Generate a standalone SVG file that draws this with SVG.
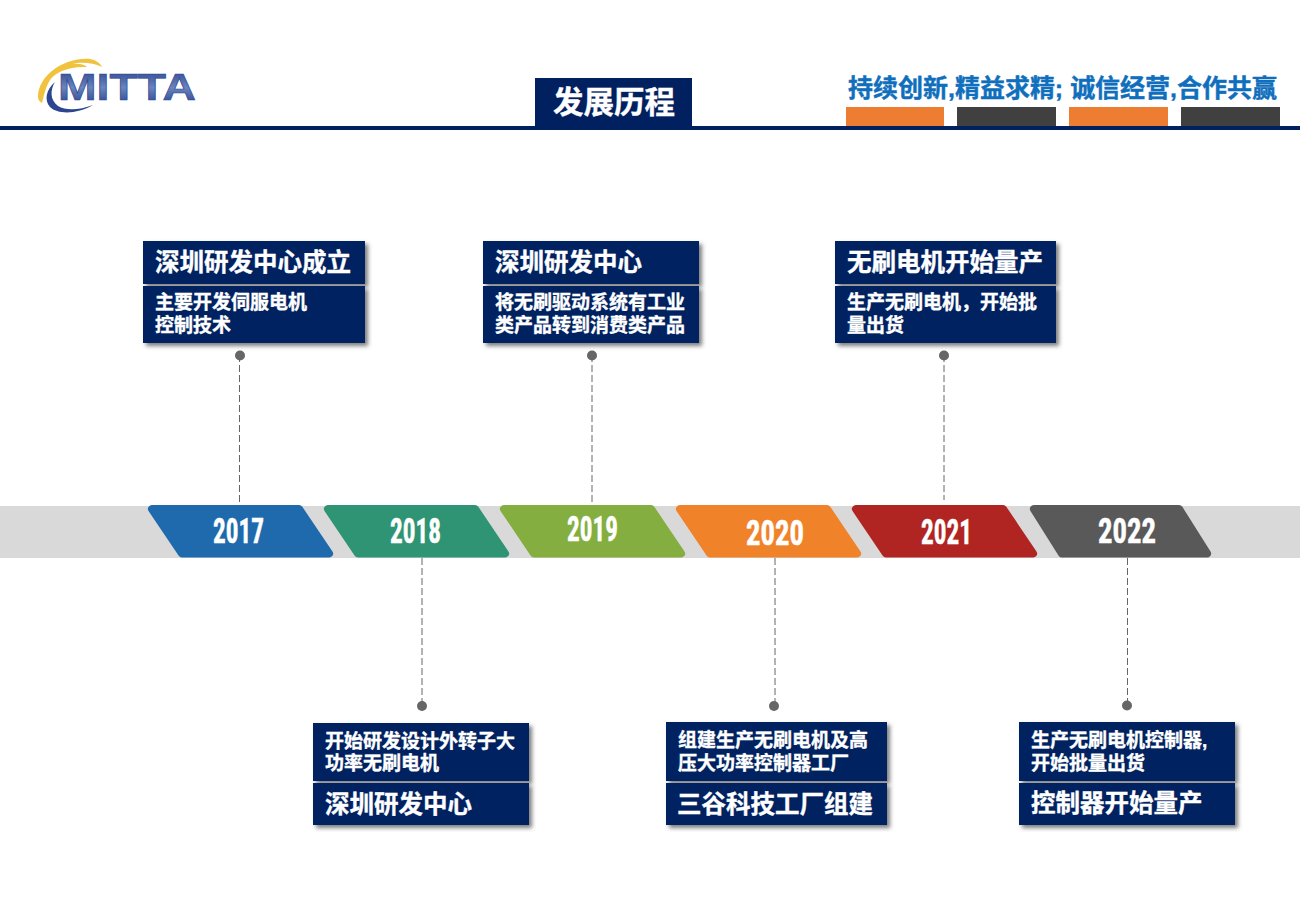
<svg xmlns="http://www.w3.org/2000/svg" width="1300" height="900" viewBox="0 0 1300 900">
<style>
.card{fill:#002060;filter:url(#sh)}
.t{font-family:"Liberation Sans","Noto Sans CJK SC",sans-serif;font-weight:700;fill:#fff;stroke:#fff;stroke-width:.35}
.tt{font-size:24.5px}
.bd{font-size:19px}
.yr{font-family:"Liberation Sans Narrow","Roboto Condensed","Liberation Sans",sans-serif;font-weight:700;font-size:35px;fill:#fff;stroke:#fff;stroke-width:.5;text-anchor:middle}
.seg{stroke-width:8;stroke-linejoin:round}
.dash{stroke:#666;stroke-width:1;stroke-dasharray:7 3;fill:none}
.dot{fill:#666}
</style>
<defs>
<filter id="sh" x="-5%" y="-10%" width="112%" height="125%"><feDropShadow dx="3" dy="3" stdDeviation="2" flood-color="#444" flood-opacity=".7"/></filter>
<linearGradient id="logoB" x1="0" y1="0" x2="0" y2="1"><stop offset="0" stop-color="#27408b"/><stop offset=".5" stop-color="#6a84bd"/><stop offset="1" stop-color="#1f3a85"/></linearGradient>
</defs>
<rect width="1300" height="900" fill="#fff"/>
<g id="header">
<path d="M38 97C38 75 65 57 90 59C96 60 100 63 102 67C92 62 80 62 72 64C80 63 85 65 87 67C70 66 55 72 50 80C45 88 44 96 42 103C40 102 38 100 38 97Z" fill="#f0c23e"/>
<path d="M55 82C46 90 44 100 50 107C58 115 78 114 93 105C80 110 66 111 58 106C50 100 50 90 55 82Z" fill="#2c4591"/>
<text x="58" y="100" font-family="'Liberation Sans',sans-serif" font-weight="700" font-size="36" fill="url(#logoB)" stroke="#2c4591" stroke-width=".6" textLength="138" lengthAdjust="spacingAndGlyphs">MITTA</text>
<rect x="0" y="126" width="1300" height="4" fill="#002060"/>
<rect x="535" y="78" width="157" height="49" fill="#002060"/>
<text x="553" y="113" class="t" font-size="30.500">发展历程</text>
<text x="848" y="97" font-family="'Liberation Sans','Noto Sans CJK SC',sans-serif" font-weight="700" font-size="24.500" fill="#0f6fbd" stroke="#0f6fbd" stroke-width=".4" textLength="429" lengthAdjust="spacingAndGlyphs">持续创新,精益求精; 诚信经营,合作共赢</text>
<rect x="846" y="107" width="98" height="19" fill="#ed7d31"/>
<rect x="957" y="107" width="99" height="19" fill="#404040"/>
<rect x="1069" y="107" width="99" height="19" fill="#ed7d31"/>
<rect x="1181" y="107" width="99" height="19" fill="#404040"/>
</g>
<rect id="band" x="0" y="506" width="1300" height="52" fill="#d9d9d9"/>
<g id="connectors">
<path class="dash" d="M239.500 355V503M592 355V503M944 355V500M422 558V706M775 558V706M1127.500 558V705"/>
</g>
<g id="y2017"><polygon class="seg" points="152,509 299,509 329,553.500 182,553.500" fill="#1f6aad" stroke="#1f6aad"/><text class="yr" x="238.500" y="542.500" textLength="51" lengthAdjust="spacingAndGlyphs">2017</text></g>
<g id="y2018"><polygon class="seg" points="328,509 475,509 505,553.500 358,553.500" fill="#2f9473" stroke="#2f9473"/><text class="yr" x="415.500" y="542.500" textLength="51" lengthAdjust="spacingAndGlyphs">2018</text></g>
<g id="y2019"><polygon class="seg" points="504,509 651,509 681,553.500 534,553.500" fill="#84ae3f" stroke="#84ae3f"/><text class="yr" x="592.500" y="540.500" textLength="51" lengthAdjust="spacingAndGlyphs">2019</text></g>
<g id="y2020"><polygon class="seg" points="680,509 827,509 857,553.500 710,553.500" fill="#f0832a" stroke="#f0832a"/><text class="yr" x="775" y="544.500" textLength="58" lengthAdjust="spacingAndGlyphs">2020</text></g>
<g id="y2021"><polygon class="seg" points="856,509 1003,509 1033,553.500 886,553.500" fill="#b02422" stroke="#b02422"/><text class="yr" x="946.500" y="543.500" textLength="51" lengthAdjust="spacingAndGlyphs">2021</text></g>
<g id="y2022"><polygon class="seg" points="1034,509 1179,509 1207,553.500 1062,553.500" fill="#595959" stroke="#595959"/><text class="yr" x="1127" y="542.500" textLength="58" lengthAdjust="spacingAndGlyphs">2022</text></g>
<g id="card2017">
<rect class="card" x="143" y="241" width="222" height="43"/><rect class="card" x="143" y="286" width="222" height="57"/>
<text class="t tt" x="155" y="271">深圳研发中心成立</text>
<text class="t bd" x="155" y="309">主要开发伺服电机</text><text class="t bd" x="155" y="332">控制技术</text>
<circle class="dot" cx="240" cy="355.500" r="5"/>
</g>
<g id="card2019">
<rect class="card" x="483" y="241" width="216" height="43"/><rect class="card" x="483" y="286" width="216" height="57"/>
<text class="t tt" x="495" y="271">深圳研发中心</text>
<text class="t bd" x="495" y="309">将无刷驱动系统有工业</text><text class="t bd" x="495" y="332">类产品转到消费类产品</text>
<circle class="dot" cx="592" cy="355.500" r="5"/>
</g>
<g id="card2021">
<rect class="card" x="835" y="241" width="221" height="43"/><rect class="card" x="835" y="286" width="221" height="57"/>
<text class="t tt" x="847" y="271">无刷电机开始量产</text>
<text class="t bd" x="847" y="309">生产无刷电机，开始批</text><text class="t bd" x="847" y="332">量出货</text>
<circle class="dot" cx="944" cy="355.500" r="5"/>
</g>
<g id="card2018">
<rect class="card" x="313" y="723" width="216" height="58"/><rect class="card" x="313" y="783" width="216" height="42"/>
<text class="t bd" x="325" y="748">开始研发设计外转子大</text><text class="t bd" x="325" y="770">功率无刷电机</text>
<text class="t tt" x="325" y="813">深圳研发中心</text>
<circle class="dot" cx="422" cy="706" r="5"/>
</g>
<g id="card2020">
<rect class="card" x="666" y="722" width="221" height="59"/><rect class="card" x="666" y="783" width="221" height="42"/>
<text class="t bd" x="678" y="747">组建生产无刷电机及高</text><text class="t bd" x="678" y="770">压大功率控制器工厂</text>
<text class="t tt" x="677" y="813">三谷科技工厂组建</text>
<circle class="dot" cx="774" cy="706" r="5"/>
</g>
<g id="card2022">
<rect class="card" x="1019" y="722" width="216" height="59"/><rect class="card" x="1019" y="783" width="216" height="42"/>
<text class="t bd" x="1031" y="747">生产无刷电机控制器,</text><text class="t bd" x="1031" y="770">开始批量出货</text>
<text class="t tt" x="1031" y="812">控制器开始量产</text>
<circle class="dot" cx="1127" cy="705.500" r="5"/>
</g>
</svg>
